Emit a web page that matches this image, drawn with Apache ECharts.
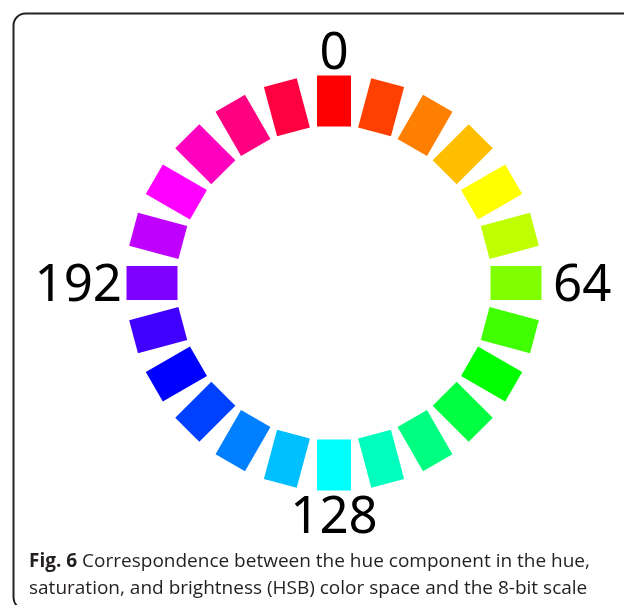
<!DOCTYPE html>
<html>
<head>
<meta charset="utf-8">
<script src="https://cdn.jsdelivr.net/npm/echarts@6/dist/echarts.min.js"></script>
<style>
  html, body { margin: 0; padding: 0; background: #fff; }
  #hueChart { width: 624px; height: 605px; }
</style>
</head>
<body>
<div id="hueChart"></div>
<script>
  // hue of each segment, degrees clockwise from top
  var segHues = [0, 15, 30, 45, 60, 75, 90, 105, 120, 135, 150, 165,
                 180, 195, 210, 225, 240, 255, 270, 285, 300, 315, 330, 345];
  var segColors = ['#ff0000', '#ff4000', '#ff8000', '#ffbf00', '#ffff00', '#bfff00',
                   '#80ff00', '#40ff00', '#00ff00', '#00ff40', '#00ff80', '#00ffbf',
                   '#00ffff', '#00bfff', '#0080ff', '#0040ff', '#0000ff', '#4000ff',
                   '#8000ff', '#bf00ff', '#ff00ff', '#ff00bf', '#ff0080', '#ff0040'];
  // 8-bit scale labels
  var scaleLabels = ['0', '64', '128', '192'];
  var labelHues = [0, 90, 180, 270];

  var RING_R = 182;   // centre of the blocks
  var SEG_W = 34, SEG_L = 51;

  var chart = echarts.init(document.getElementById('hueChart'));

  function renderSeg(params, api) {
    var hue = api.value(1);
    var p = api.coord([api.value(0), hue]);
    return {
      type: 'rect',
      x: p[0],
      y: p[1],
      rotation: -hue * Math.PI / 180,
      shape: { x: -SEG_W / 2, y: -SEG_L / 2, width: SEG_W, height: SEG_L },
      style: { fill: segColors[params.dataIndex] }
    };
  }

  function renderLabel(params, api) {
    var hue = api.value(1);
    var dx = Math.sin(hue * Math.PI / 180);
    var align = dx > 0.5 ? 'left' : (dx < -0.5 ? 'right' : 'center');
    var r = align === 'center' ? 232 : (align === 'left' ? 219 : 212);
    var p = api.coord([r, hue]);
    return {
      type: 'text',
      x: p[0],
      y: p[1] + 3,
      style: {
        text: scaleLabels[params.dataIndex],
        fill: '#000',
        font: '51px "Noto Sans"',
        align: align,
        verticalAlign: 'middle'
      }
    };
  }

  var option = {
    backgroundColor: '#fff',
    animation: false,
    polar: { center: [334, 283], radius: 250 },
    angleAxis: { type: 'value', min: 0, max: 360, startAngle: 90, clockwise: true, show: false },
    radiusAxis: { type: 'value', min: 0, max: 250, show: false },
    title: {
      left: 24,
      top: 543,
      text: '{b|Fig. 6} Correspondence between the hue component in the hue,\nsaturation, and brightness (HSB) color space and the 8-bit scale',
      textStyle: {
        fontFamily: 'Open Sans',
        fontSize: 19,
        fontWeight: 'normal',
        color: '#231f20',
        lineHeight: 27,
        rich: {
          b: { fontFamily: 'Open Sans', fontSize: 19, fontWeight: 'bold', color: '#231f20', lineHeight: 27 }
        }
      }
    },
    graphic: [{
      type: 'rect',
      left: 11,
      top: 11,
      shape: { width: 640, height: 596, r: 12 },
      style: { fill: 'none', stroke: '#222', lineWidth: 2 },
      silent: true
    }],
    series: [{
      type: 'custom',
      coordinateSystem: 'polar',
      renderItem: renderSeg,
      data: segHues.map(function (h) { return [RING_R, h]; })
    }, {
      type: 'custom',
      coordinateSystem: 'polar',
      renderItem: renderLabel,
      data: labelHues.map(function (h) { return [RING_R, h]; })
    }]
  };

  chart.setOption(option);
</script>
</body>
</html>
